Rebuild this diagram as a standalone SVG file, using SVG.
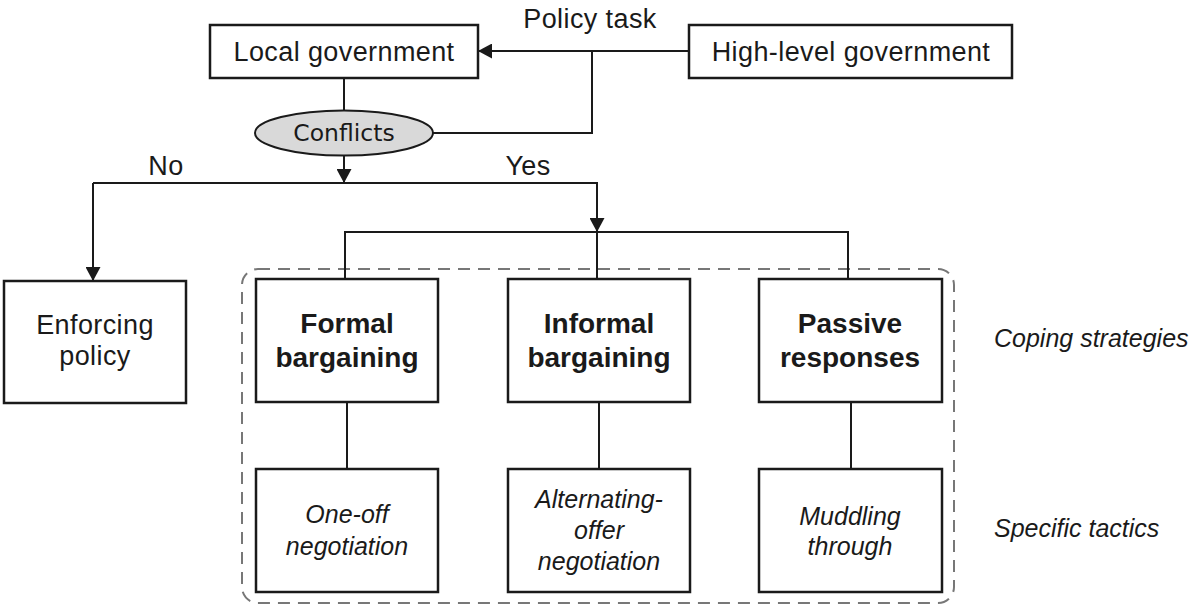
<svg xmlns="http://www.w3.org/2000/svg" width="1200" height="611" viewBox="0 0 1200 611">
<style>
.box{fill:#fff;stroke:#1a1a1a;stroke-width:2.5}
.ln{fill:none;stroke:#1a1a1a;stroke-width:2}
.reg{font-family:"Liberation Sans",Arial,sans-serif;font-size:27px;letter-spacing:0.4px;fill:#1a1a1a}
.bold{font-family:"Liberation Sans",Arial,sans-serif;font-size:28px;font-weight:bold;fill:#1a1a1a}
.it{font-family:"Liberation Sans",Arial,sans-serif;font-size:25px;font-style:italic;fill:#1a1a1a}
</style>
<defs>
<marker id="arr" viewBox="0 0 14 15" refX="14" refY="7.5" markerWidth="14" markerHeight="15" markerUnits="userSpaceOnUse" orient="auto">
<path d="M0,0 L14,7.5 L0,15 Z" fill="#1a1a1a"/>
</marker>
</defs>
<rect id="group-frame" x="242" y="269" width="712" height="334" rx="16" fill="none" stroke="#777" stroke-width="2" stroke-dasharray="12,8"/>
<g id="connectors">
<path class="ln" d="M689,51 H478" marker-end="url(#arr)"/>
<path class="ln" d="M592,51 V133 H433"/>
<path class="ln" d="M344,78 V111"/>
<path class="ln" d="M344,155 V183" marker-end="url(#arr)"/>
<path class="ln" d="M93,183 H597 V232" marker-end="url(#arr)"/>
<path class="ln" d="M93,183 V281" marker-end="url(#arr)"/>
<path class="ln" d="M345,279 V232 H848 V279"/>
<path class="ln" d="M597,232 V279"/>
<path class="ln" d="M347,402 V469"/>
<path class="ln" d="M599,402 V469"/>
<path class="ln" d="M851,402 V469"/>
<text class="reg" x="590" y="28" text-anchor="middle">Policy task</text>
<text class="reg" x="166" y="175" text-anchor="middle">No</text>
<text class="reg" x="528" y="175" text-anchor="middle">Yes</text>
</g>
<g id="local-gov">
<rect class="box" x="210" y="25" width="268" height="53"/>
<text class="reg" x="344" y="61" text-anchor="middle">Local government</text>
</g>
<g id="high-gov">
<rect class="box" x="689" y="25" width="323" height="53"/>
<text class="reg" x="851" y="61" text-anchor="middle">High-level government</text>
</g>
<g id="conflicts">
<ellipse cx="344" cy="133" rx="89" ry="22.5" fill="#d9d9d9" stroke="#1a1a1a" stroke-width="2"/>
<text x="344" y="141" text-anchor="middle" font-family="DejaVu Sans, sans-serif" font-size="23.5" fill="#1a1a1a">Conflicts</text>
</g>
<g id="enforcing">
<rect class="box" x="4" y="281" width="182" height="122"/>
<text class="reg" x="95" y="334" text-anchor="middle">Enforcing</text>
<text class="reg" x="95" y="365" text-anchor="middle">policy</text>
</g>
<g id="formal">
<rect class="box" x="256" y="279" width="182" height="123"/>
<text class="bold" x="347" y="333" text-anchor="middle">Formal</text>
<text class="bold" x="347" y="367" text-anchor="middle">bargaining</text>
</g>
<g id="informal">
<rect class="box" x="508" y="279" width="182" height="123"/>
<text class="bold" x="599" y="333" text-anchor="middle">Informal</text>
<text class="bold" x="599" y="367" text-anchor="middle">bargaining</text>
</g>
<g id="passive">
<rect class="box" x="759" y="279" width="183" height="123"/>
<text class="bold" x="850" y="333" text-anchor="middle">Passive</text>
<text class="bold" x="850" y="367" text-anchor="middle">responses</text>
</g>
<g id="oneoff">
<rect class="box" x="256" y="469" width="182" height="123"/>
<text class="it" x="347" y="523" text-anchor="middle">One-off</text>
<text class="it" x="347" y="555" text-anchor="middle">negotiation</text>
</g>
<g id="alternating">
<rect class="box" x="508" y="469" width="182" height="123"/>
<text class="it" x="599" y="508" text-anchor="middle">Alternating-</text>
<text class="it" x="599" y="539" text-anchor="middle">offer</text>
<text class="it" x="599" y="570" text-anchor="middle">negotiation</text>
</g>
<g id="muddling">
<rect class="box" x="759" y="469" width="183" height="123"/>
<text class="it" x="850" y="525" text-anchor="middle">Muddling</text>
<text class="it" x="850" y="555" text-anchor="middle">through</text>
</g>
<g id="labels">
<text class="it" x="994" y="347">Coping strategies</text>
<text class="it" x="994" y="537">Specific tactics</text>
</g>
</svg>
